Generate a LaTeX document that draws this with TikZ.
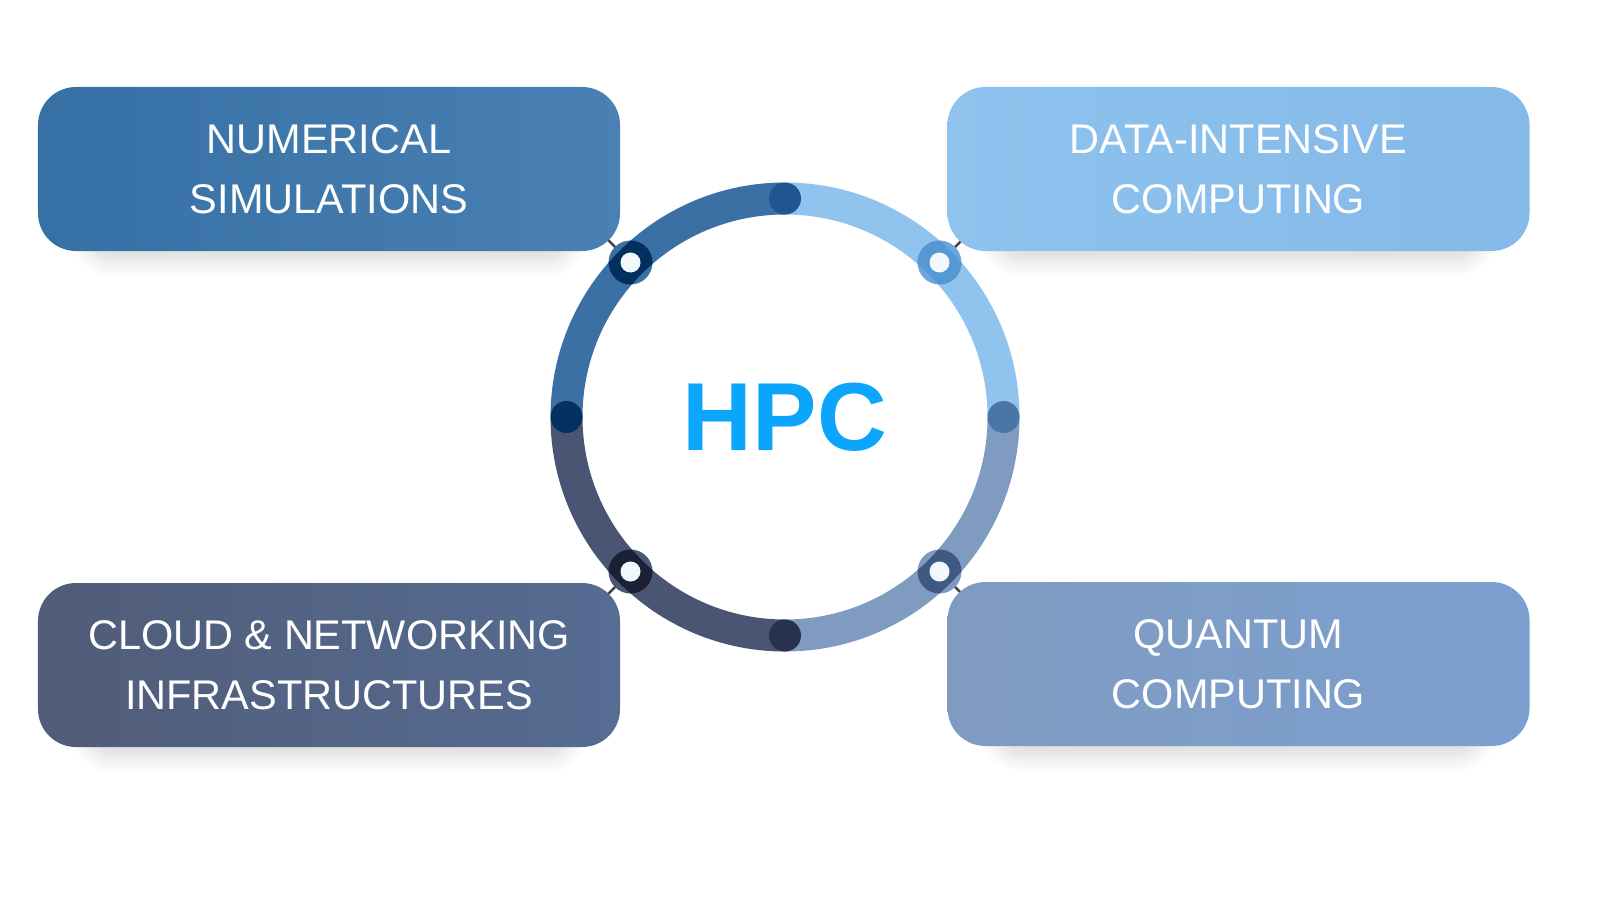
\documentclass[tikz,border=0pt]{standalone}
\usepackage{fontspec}
\setmainfont{Liberation Sans}
\usetikzlibrary{calc,shadows.blur}
\definecolor{hpcblue}{HTML}{0CA5FC}
\definecolor{tickgray}{HTML}{444444}
\definecolor{bandtl}{HTML}{3A70A3}
\definecolor{bandtr}{HTML}{90C4EE}
\definecolor{bandbr}{HTML}{7F9BC0}
\definecolor{bandbl}{HTML}{4A5574}
% box gradients
\definecolor{numA}{HTML}{3670A4}\definecolor{numB}{HTML}{4A80B3}
\definecolor{datA}{HTML}{8FC3EE}\definecolor{datB}{HTML}{84B9E8}
\definecolor{clA}{HTML}{505C78}\definecolor{clB}{HTML}{566C92}
\definecolor{quA}{HTML}{7F9BC0}\definecolor{quB}{HTML}{7C9FD0}
% dots on the ring
\definecolor{dotN}{HTML}{1F5590}\definecolor{dotE}{HTML}{4A76A7}
\definecolor{dotS}{HTML}{29324D}\definecolor{dotW}{HTML}{04315F}
\definecolor{liteA}{HTML}{3B70A3}\definecolor{darkA}{HTML}{032F5E}
\definecolor{liteB}{HTML}{6AA7DC}\definecolor{darkB}{HTML}{5598D2}
\definecolor{liteC}{HTML}{4B5675}\definecolor{darkC}{HTML}{1B2034}
\definecolor{liteD}{HTML}{8099BE}\definecolor{darkD}{HTML}{3E5A82}
\definecolor{holewhite}{HTML}{F0F7FD}
\begin{document}
\begin{tikzpicture}[
	topic/.style={rounded corners=0.38cm, minimum width=5.82cm, minimum height=1.64cm,%
	align=center, text=white, font=\fontsize{11.8}{17.1}\selectfont,%
	blur shadow={shadow xshift=0pt, shadow yshift=-0.28cm, shadow scale=0.85, shadow opacity=14, shadow blur radius=0.18cm, shadow blur steps=12}},
	band/.style={line width=0.32cm},
	link/.style={draw=tickgray, line width=0.7pt}]
			\useasboundingbox (0,0) rectangle (16,9);
			\node[text=hpcblue, font=\bfseries\fontsize{27.5}{30}\selectfont] (hub) at (7.85,4.83) {HPC};
			% points on the ring and free ends of the ticks
			\foreach \i/\a in {1/135, 2/45, 3/225, 4/315} {
				\coordinate (p\i) at ($(hub)+(\a:2.185)$);
				\coordinate (k\i) at ($(hub)+(\a:2.75)$);
				\draw[link] (k\i) -- (p\i);
			}
			\node[topic, left color=numA, right color=numB] (numsim) at (3.29,7.31) {NUMERICAL\\SIMULATIONS};
			\node[topic, left color=datA, right color=datB] (dataint) at (12.385,7.31) {DATA-INTENSIVE\\COMPUTING};
			\node[topic, left color=clA, right color=clB] (cloudnet) at (3.29,2.35) {CLOUD \& NETWORKING\\INFRASTRUCTURES};
			\node[topic, left color=quA, right color=quB] (quantum) at (12.385,2.36) {QUANTUM\\COMPUTING};
			% ring
			\draw[band, bandtr] ($(hub)+(0:2.185)$) arc (0:90:2.185);
			\draw[band, bandtl] ($(hub)+(90:2.185)$) arc (90:180:2.185);
			\draw[band, bandbl] ($(hub)+(180:2.185)$) arc (180:270:2.185);
			\draw[band, bandbr] ($(hub)+(270:2.185)$) arc (270:360:2.185);
			\foreach \a/\c in {90/dotN, 0/dotE, 270/dotS, 180/dotW}
				\fill[\c] ($(hub)+(\a:2.185)$) circle (0.16);
			% markers at the diagonals
			\foreach \i/\lite/\dark in {1/liteA/darkA, 2/liteB/darkB, 3/liteC/darkC, 4/liteD/darkD} {
				\fill[\lite] (p\i) circle (0.22);
				\begin{scope}
					\clip (p\i) circle (0.22);
					\draw[band, \dark] (hub.center) circle (2.185);
				\end{scope}
				\fill[holewhite] (p\i) circle (0.10);
			}
		\end{tikzpicture}
\end{document}
